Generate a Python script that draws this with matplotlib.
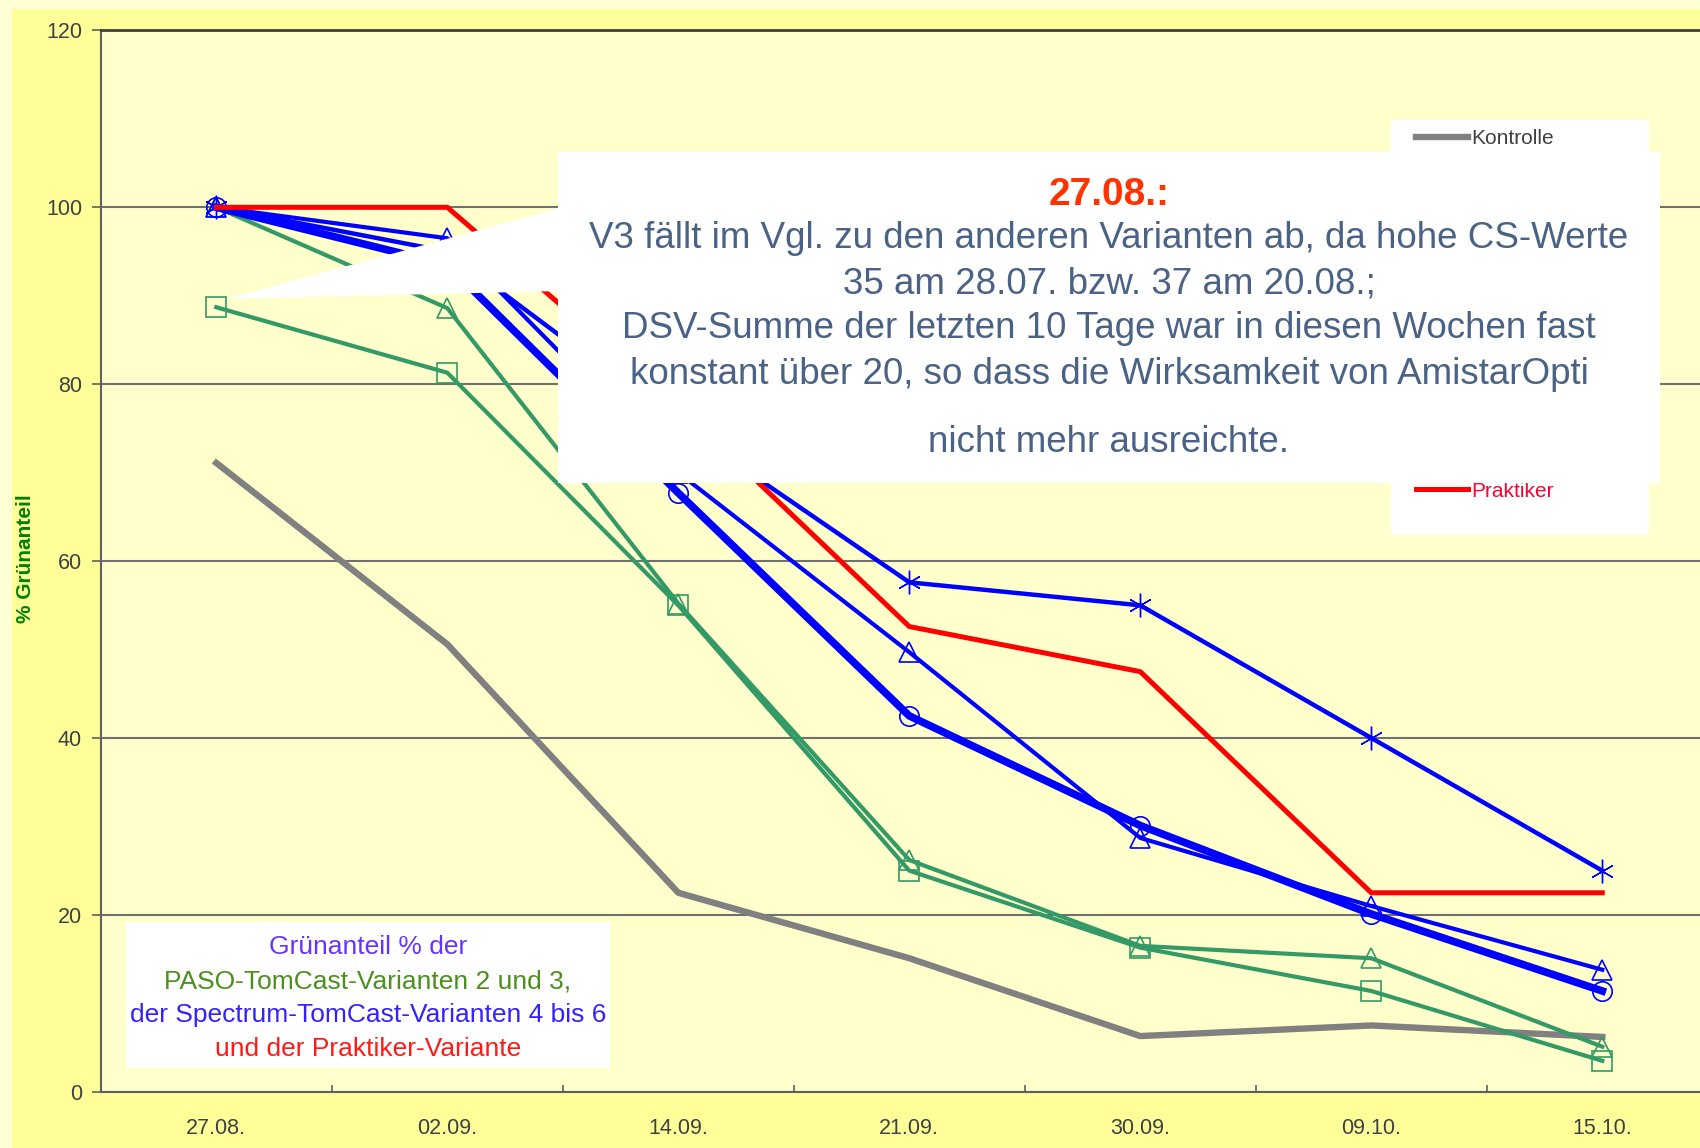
import matplotlib.pyplot as plt
from matplotlib.patches import Rectangle, Polygon
from matplotlib.ticker import FixedLocator

plt.rcParams['font.family'] = ['Liberation Sans', 'DejaVu Sans']

# data
dates = ['27.08.', '02.09.', '14.09.', '21.09.', '30.09.', '09.10.', '15.10.']
kontrolle = [71.1, 50.6, 22.5, 15.1, 6.3, 7.5, 6.2]
v2 = [100, 88.6, 55.2, 26.2, 16.5, 15.1, 5.1]
v3 = [88.7, 81.3, 55.0, 25.0, 16.3, 11.4, 3.5]
v4 = [100, 93.5, 67.7, 42.5, 30.1, 20.1, 11.4]
v5 = [100, 96.5, 70.0, 49.7, 28.7, 21.0, 13.8]
v6 = [100, 95.0, 75.5, 57.6, 55.0, 40.0, 25.0]
praktiker = [100, 100, 77.5, 52.6, 47.5, 22.5, 22.5]

W, H = 1700, 1148


def fx(px):
    return px / W


def fy(py):
    return 1 - py / H


fig = plt.figure(figsize=(17, 11.48), dpi=100, facecolor='#FFFFD6')
# chart area band
fig.patches.append(Rectangle((fx(12), 0), 1, fy(9), transform=fig.transFigure,
                             facecolor='#FFFF99', edgecolor='none', zorder=-10))

ax = fig.add_axes([fx(100.8), 1 - 1091.8 / H, 1617 / W, (1091.8 - 30.4) / H])
ax.set_facecolor('#FFFFCC')

x = list(range(len(dates)))
green = '#339966'
blue = '#0000FF'

ax.plot(x, kontrolle, color='#808080', lw=4.6, label='Kontrolle', zorder=3)
ax.plot(x, v2, color=green, lw=3, marker='^', ms=14, mfc='none', mec=green, mew=1.2,
        label='Variante 2', zorder=4)
ax.plot(x, v3, color=green, lw=3, marker='s', ms=14, mfc='none', mec=green, mew=1.2,
        label='Variante 3', zorder=4)
ax.plot(x, v4, color=blue, lw=5.5, marker='o', ms=14, mfc='none', mec=blue, mew=1.2,
        label='Variante 4', zorder=5)
ax.plot(x, v5, color=blue, lw=3, marker='^', ms=15, mfc='none', mec=blue, mew=1.2,
        label='Variante 5', zorder=5)
ax.plot(x, v6, color=blue, lw=3.2, marker=(6, 2, 0), ms=17, mec=blue, mew=1.0,
        label='Variante 6', zorder=5)
ax.plot(x, praktiker, color='#FF0000', lw=3.6, label='Praktiker', zorder=6)

ax.set_xlim(-0.5, 6.5)
ax.set_ylim(0, 120)
ax.set_yticks(range(0, 121, 20))
ax.set_xticks(x)
ax.set_xticklabels(dates)
ax.xaxis.set_minor_locator(FixedLocator([i + 0.5 for i in range(6)]))
ax.tick_params(axis='x', which='major', length=0, pad=19, labelsize=15.5, labelcolor='#404040')
ax.tick_params(axis='x', which='minor', direction='in', length=5, width=1.2, color='#606060')
ax.tick_params(axis='y', direction='out', length=6.5, width=1.2, color='#606060',
               pad=7, labelsize=15.5, labelcolor='#404040')
ax.grid(axis='y', color='#707070', lw=1.5, zorder=1)
ax.set_axisbelow(True)
for s in ['left', 'bottom']:
    ax.spines[s].set_color('#606060')
    ax.spines[s].set_linewidth(1.5)
ax.spines['top'].set_color('#404040')
ax.spines['top'].set_linewidth(2)
ax.spines['right'].set_visible(False)

fig.text(fx(26), fy(559), '% Grünanteil', rotation=90, ha='center', va='center',
         fontsize=15, fontweight='bold', color='#008000')

# legend (mostly covered by the callout)
fig.patches.append(Rectangle((fx(1391), fy(535)), fx(1649 - 1391), (535 - 120) / H,
                             transform=fig.transFigure, facecolor='white',
                             edgecolor='none', zorder=1))
handles, labels = ax.get_legend_handles_labels()
leg = fig.legend(handles, labels, loc='upper left', bbox_to_anchor=(fx(1416), fy(129)),
                 frameon=False, fontsize=15, handlelength=2.5, handletextpad=0.15,
                 borderpad=0, borderaxespad=0, labelspacing=1.91)
leg.set_zorder(1.5)
text_colors = ['#404040', green, green, blue, blue, blue, '#FF0033']
for i, (t, c) in enumerate(zip(leg.get_texts(), text_colors)):
    t.set_color(c)
    # entries 2-6 sit under the callout box
    if 0 < i < 6:
        t.set_visible(False)

# callout box
fig.patches.append(Polygon([(fx(226), fy(299)), (fx(560), fy(208)), (fx(560), fy(291))],
                           closed=True, transform=fig.transFigure, facecolor='white',
                           edgecolor='none', zorder=2))
fig.patches.append(Rectangle((fx(558), fy(483)), fx(1660 - 558), (483 - 152) / H,
                             transform=fig.transFigure, facecolor='white',
                             edgecolor='none', zorder=2))
fig.text(fx(1109), fy(195), '27.08.:', ha='center', va='center', fontsize=28,
         fontweight='bold', color='#FF3300', zorder=3)
callout_lines = [
    'V3 fällt im Vgl. zu den anderen Varianten ab, da hohe CS-Werte',
    '35 am 28.07. bzw. 37 am 20.08.;',
    'DSV-Summe der letzten 10 Tage war in diesen Wochen fast',
    'konstant über 20, so dass die Wirksamkeit von AmistarOpti',
    'nicht mehr ausreichte.',
]
for line, py in zip(callout_lines, [239, 284, 329, 374, 442]):
    fig.text(fx(1109), fy(py), line, ha='center', va='center', fontsize=26.5,
             color='#4A6285', zorder=3)

# info box bottom left
fig.patches.append(Rectangle((fx(126), fy(1068)), fx(610 - 126), (1068 - 922) / H,
                             transform=fig.transFigure, facecolor='white',
                             edgecolor='none', zorder=2))
info_lines = ['Grünanteil % der', 'PASO-TomCast-Varianten 2 und 3,',
              'der Spectrum-TomCast-Varianten 4 bis 6', 'und der Praktiker-Variante']
info_colors = ['#6633FF', '#4C8F1E', '#3322FF', '#FF1A1A']
for line, c, py in zip(info_lines, info_colors, [947, 982, 1015, 1049]):
    fig.text(fx(368), fy(py), line, ha='center', va='center', fontsize=19,
             color=c, zorder=3)

fig.savefig('out.png', dpi=100, facecolor=fig.get_facecolor())
